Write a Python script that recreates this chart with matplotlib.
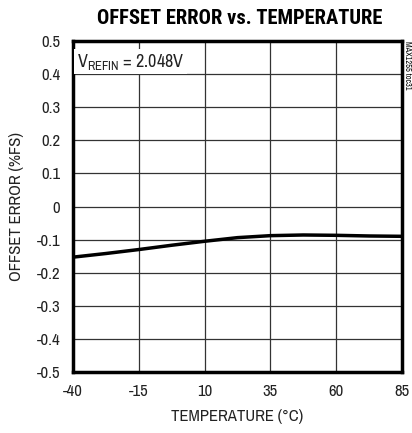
import matplotlib
matplotlib.use("Agg")
import matplotlib.pyplot as plt
from matplotlib import font_manager

names = {f.name for f in font_manager.fontManager.ttflist}
FONT = next((n for n in ["Archivo Narrow", "Roboto Condensed", "Liberation Sans Narrow"] if n in names), "DejaVu Sans")
TFONT = next((n for n in ["Roboto Condensed", "Fira Sans Condensed", "Barlow Semi Condensed"] if n in names), FONT)
plt.rcParams['font.family'] = [FONT, 'DejaVu Sans']

temp = [-40, -27.5, -15, -2.5, 10, 22.5, 35, 47.5, 60, 72.5, 85]
offset_err = [-0.153, -0.142, -0.130, -0.117, -0.105, -0.094, -0.088, -0.086, -0.087, -0.089, -0.090]
xticks = [-40, -15, 10, 35, 60, 85]
yticks = [-0.5, -0.4, -0.3, -0.2, -0.1, 0, 0.1, 0.2, 0.3, 0.4, 0.5]
ylabels = ['-0.5', '-0.4', '-0.3', '-0.2', '-0.1', '0', '0.1', '0.2', '0.3', '0.4', '0.5']

fig = plt.figure(figsize=(4.12, 4.33), dpi=100)
ax = fig.add_axes([0.177, 0.141, 0.799, 0.764])
ax.plot(temp, offset_err, color='black', lw=2.5, zorder=3)
ax.set_xlim(-40, 85)
ax.set_ylim(-0.5, 0.5)
ax.set_xticks(xticks)
ax.set_xticklabels([str(t) for t in xticks])
ax.set_yticks(yticks)
ax.set_yticklabels(ylabels)
ax.grid(True, color='#333333', lw=0.9)
ax.tick_params(length=0, labelsize=12, pad=9, labelcolor='#222222')
for s in ax.spines.values():
    s.set_linewidth(2.5)
ax.set_xlabel('TEMPERATURE (°C)', fontsize=12, labelpad=7, color='#222222')
ax.set_ylabel('OFFSET ERROR (%FS)', fontsize=12, labelpad=9, color='#222222')
fig.text(0.582, 0.958, 'OFFSET ERROR vs. TEMPERATURE', ha='center', va='center',
         fontsize=14.8, fontweight='bold', family=[TFONT, 'DejaVu Sans'])
ax.text(0.012, 0.968, r'V$_{\mathregular{REFIN}}$ = 2.048V', transform=ax.transAxes,
        ha='left', va='top', fontsize=13, color='#222222',
        bbox=dict(facecolor='white', edgecolor='none', pad=2), zorder=4)
fig.text(0.988, 0.905, 'MAX1255 toc31', rotation=270, ha='center', va='top', fontsize=6)
fig.savefig('out.png', dpi=100)
